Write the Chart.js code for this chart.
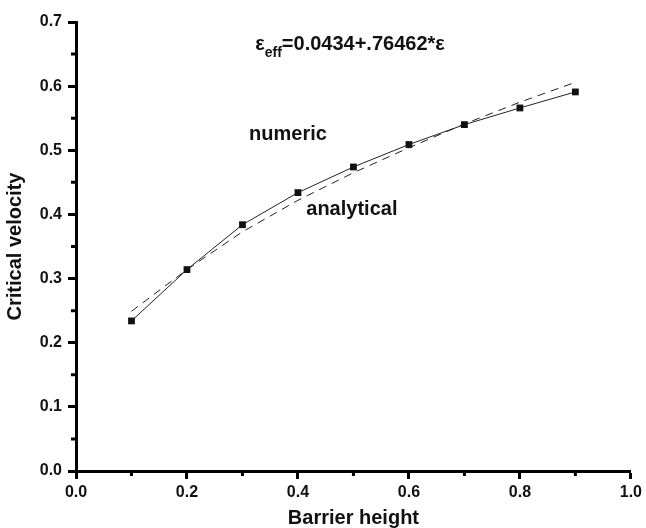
<!DOCTYPE html>
<html>
<head>
<meta charset="utf-8">
<script src="https://cdn.jsdelivr.net/npm/chart.js@4"></script>
<style>
  body { margin: 0; background: #fff; }
  #wrap { width: 646px; height: 528px; }
</style>
</head>
<body>
<div id="wrap"><canvas id="grafico" width="646" height="528"></canvas></div>
<script>
// dados
var alturas = [0.1, 0.2, 0.3, 0.4, 0.5, 0.6, 0.7, 0.8, 0.9];
var numerico = [0.234, 0.314, 0.384, 0.434, 0.474, 0.509, 0.540, 0.566, 0.591];
var analitico = [0.249, 0.314, 0.373, 0.422, 0.465, 0.504, 0.541, 0.575, 0.606];

var tituloX = 'Barrier height';
var tituloY = 'Critical velocity';

var fonte = '"Liberation Sans", Arial, sans-serif';

function pontos(ys) {
    var r = [];
    for (let i = 0; i < alturas.length; i++) {
        r.push({ x: alturas[i], y: ys[i] });
    }
    return r;
}

// ticks menores sao desenhados mais curtos
function ehMenor(valor, passo) {
    return Math.round(valor / passo) % 2 !== 0;
}

var ticksMenoresPlugin = {
    id: 'ticksMenores',
    afterDraw: function (chart) {
        var c = chart.ctx;
        var sx = chart.scales.x, sy = chart.scales.y;
        c.save();
        c.strokeStyle = '#000';
        c.lineWidth = 3;
        c.beginPath();
        sx.ticks.forEach(function (t) {
            if (ehMenor(t.value, 0.1)) {
                var px = sx.getPixelForValue(t.value);
                c.moveTo(px, sx.top);
                c.lineTo(px, sx.top + 5);
            }
        });
        sy.ticks.forEach(function (t) {
            if (ehMenor(t.value, 0.05)) {
                var py = sy.getPixelForValue(t.value);
                c.moveTo(sy.right, py);
                c.lineTo(sy.right - 5, py);
            }
        });
        c.stroke();
        c.restore();
    }
};

// textos dentro do grafico
var textosPlugin = {
    id: 'textos',
    afterDraw: function (chart) {
        var c = chart.ctx;
        var sx = chart.scales.x, sy = chart.scales.y;
        c.save();
        c.fillStyle = '#111';
        c.textBaseline = 'middle';
        c.textAlign = 'left';

        c.font = 'bold 20px ' + fonte;
        c.fillText('numeric', sx.getPixelForValue(0.312), sy.getPixelForValue(0.524));
        c.fillText('analytical', sx.getPixelForValue(0.415), sy.getPixelForValue(0.407));

        // equacao
        var x0 = sx.getPixelForValue(0.323), y0 = sy.getPixelForValue(0.665);
        c.font = 'bold 20px ' + fonte;
        c.fillText('\u03b5', x0, y0);
        var w = c.measureText('\u03b5').width;
        c.font = 'bold 14px ' + fonte;
        c.fillText('eff', x0 + w, y0 + 9);
        var w2 = c.measureText('eff').width;
        c.font = 'bold 20px ' + fonte;
        c.fillText('=0.0434+.76462*\u03b5', x0 + w + w2, y0);
        c.restore();
    }
};

var corTick = function (ctx, passo) {
    if (!ctx.tick) return '#000';
    return ehMenor(ctx.tick.value, passo) ? 'rgba(0,0,0,0)' : '#000';
};

new Chart(document.getElementById('grafico'), {
    type: 'scatter',
    data: {
        datasets: [{
            label: 'numeric',
            data: pontos(numerico),
            showLine: true,
            borderColor: '#222',
            borderWidth: 1,
            backgroundColor: '#111',
            pointStyle: 'rect',
            pointRadius: 4.8,
            pointBorderWidth: 0,
            pointBackgroundColor: '#111'
        }, {
            label: 'analytical',
            data: pontos(analitico),
            showLine: true,
            borderColor: '#222',
            borderWidth: 1,
            borderDash: [8, 6],
            pointRadius: 0
        }]
    },
    options: {
        responsive: false,
        animation: false,
        layout: { padding: { top: 22, right: 13, left: 0, bottom: 0 } },
        plugins: {
            legend: { display: false },
            tooltip: { enabled: false }
        },
        scales: {
            x: {
                type: 'linear',
                min: 0,
                max: 1,
                afterFit: function (scale) { scale.height = 57; },
                border: { display: true, width: 3, color: '#000' },
                grid: {
                    drawOnChartArea: false,
                    drawTicks: true,
                    tickLength: 8,
                    tickWidth: 3,
                    tickColor: function (ctx) { return corTick(ctx, 0.1); }
                },
                ticks: {
                    stepSize: 0.1,
                    autoSkip: false,
                    maxRotation: 0,
                    color: '#111',
                    padding: 4,
                    font: { family: fonte, size: 16, weight: 'bold' },
                    callback: function (v) {
                        var k = Math.round(v * 10);
                        return k % 2 === 0 ? (k / 10).toFixed(1) : '';
                    }
                },
                title: {
                    display: true,
                    text: tituloX,
                    color: '#111',
                    padding: { top: 0, bottom: 0 },
                    font: { family: fonte, size: 20, weight: 'bold', lineHeight: 1 }
                }
            },
            y: {
                type: 'linear',
                min: 0,
                max: 0.7,
                afterFit: function (scale) { scale.width = 76; },
                border: { display: true, width: 3, color: '#000' },
                grid: {
                    drawOnChartArea: false,
                    drawTicks: true,
                    tickLength: 8,
                    tickWidth: 3,
                    tickColor: function (ctx) { return corTick(ctx, 0.05); }
                },
                ticks: {
                    stepSize: 0.05,
                    autoSkip: false,
                    color: '#111',
                    padding: 6,
                    font: { family: fonte, size: 16, weight: 'bold' },
                    callback: function (v) {
                        var k = Math.round(v * 20);
                        return k % 2 === 0 ? (k / 20).toFixed(1) : '';
                    }
                },
                title: {
                    display: true,
                    text: tituloY,
                    color: '#111',
                    padding: { top: 3, bottom: 0 },
                    font: { family: fonte, size: 20, weight: 'bold' }
                }
            }
        }
    },
    plugins: [ticksMenoresPlugin, textosPlugin]
});
</script>
</body>
</html>
